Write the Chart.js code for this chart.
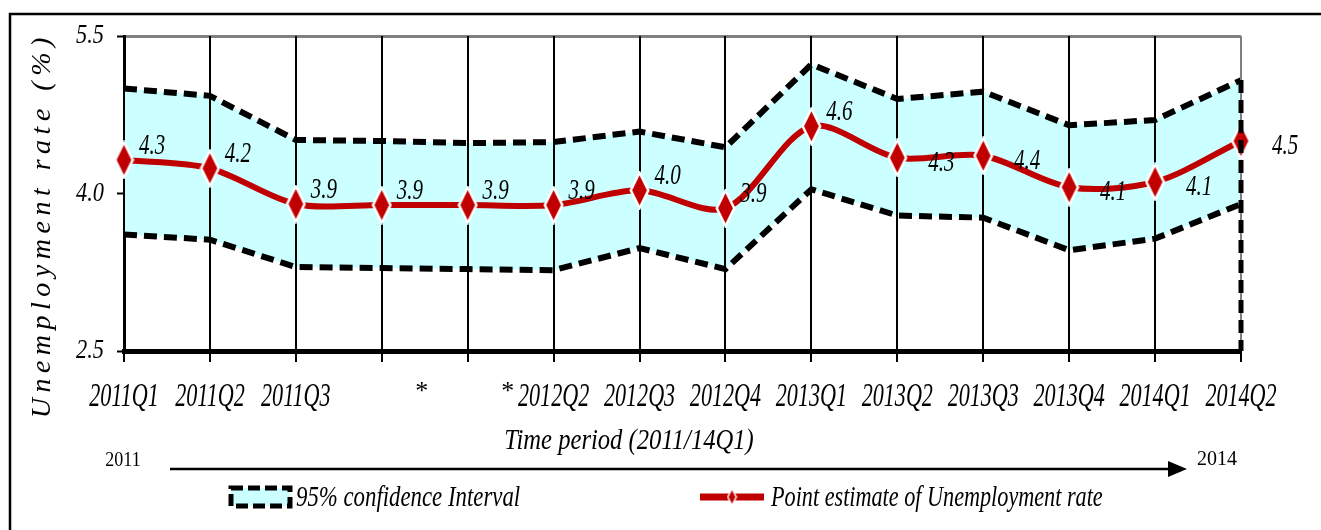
<!DOCTYPE html>
<html>
<head>
<meta charset="utf-8">
<title>Unemployment rate</title>
<script src="https://cdn.jsdelivr.net/npm/chart.js@4.4.1/dist/chart.umd.min.js"></script>
<style>
  html, body { margin: 0; padding: 0; background: #fff; }
  #wrap { width: 1321px; height: 530px; }
</style>
</head>
<body>
<div id="wrap"><canvas id="chart" width="1321" height="530"></canvas></div>
<script>
// quarters on the x axis and the labels printed under them
const periods = ['2011Q1', '2011Q2', '2011Q3', '2011Q4', '2012Q1', '2012Q2', '2012Q3',
                 '2012Q4', '2013Q1', '2013Q2', '2013Q3', '2013Q4', '2014Q1', '2014Q2'];
const tickLabels = ['2011Q1', '2011Q2', '2011Q3', '*', '*', '2012Q2', '2012Q3',
                    '2012Q4', '2013Q1', '2013Q2', '2013Q3', '2013Q4', '2014Q1', '2014Q2'];

// values
const pointEstimate = [4.32, 4.24, 3.90, 3.89, 3.89, 3.89, 4.03, 3.86, 4.64, 4.34, 4.36, 4.06, 4.11, 4.50];
const upperCI = [5.00, 4.93, 4.51, 4.50, 4.48, 4.49, 4.59, 4.44, 5.23, 4.90, 4.97, 4.65, 4.70, 5.08];
const lowerCI = [3.61, 3.56, 3.30, 3.29, 3.28, 3.27, 3.48, 3.28, 4.04, 3.79, 3.77, 3.46, 3.57, 3.90];
const yTicks = [2.5, 4.0, 5.5];

const yTitle = 'Unemployment rate (%)';
const xTitle = 'Time period (2011/14Q1)';
const ciLabel = '95% confidence Interval';
const pointLabel = 'Point estimate of Unemployment rate';
const startYear = '2011';
const endYear = '2014';

const RED = '#c00000';
const CYAN = '#ccffff';
const SERIF = '"Liberation Serif", "Times New Roman", serif';

// tall diamond marker (the chart was squeezed sideways)
function makeDiamond(w, h, border) {
    const c = document.createElement('canvas');
    c.width = w;
    c.height = h;
    const g = c.getContext('2d');
    const b = border / 2 + 0.5;
    g.beginPath();
    g.moveTo(w / 2, b);
    g.lineTo(w - b, h / 2);
    g.lineTo(w / 2, h - b);
    g.lineTo(b, h / 2);
    g.closePath();
    g.fillStyle = RED;
    g.fill();
    g.strokeStyle = '#fff';
    g.lineWidth = border;
    g.stroke();
    return c;
}
const bigDiamond = makeDiamond(21, 39, 2.5);
const smallDiamond = makeDiamond(11, 19, 1.5);

function drawText(ctx, text, x, y, size, sx, align, italic) {
    ctx.save();
    ctx.font = (italic === false ? '' : 'italic ') + size + 'px ' + SERIF;
    ctx.fillStyle = '#000';
    ctx.textBaseline = 'middle';
    ctx.textAlign = align || 'center';
    ctx.translate(x, y);
    ctx.scale(sx, 1);
    ctx.fillText(text, 0, 0);
    ctx.restore();
}

// rotated title with wide letter spacing
function drawSpacedVertical(ctx, text, cx, cy, size, spacing) {
    ctx.save();
    ctx.font = 'italic ' + size + 'px ' + SERIF;
    ctx.fillStyle = '#000';
    ctx.textBaseline = 'middle';
    ctx.textAlign = 'left';
    const widths = [...text].map(ch => ctx.measureText(ch).width);
    const total = widths.reduce((a, b) => a + b, 0) + spacing * (widths.length - 1);
    ctx.translate(cx, cy);
    ctx.rotate(-Math.PI / 2);
    let x = -total / 2;
    [...text].forEach((ch, i) => {
        ctx.fillText(ch, x, 0);
        x += widths[i] + spacing;
    });
    ctx.restore();
}

const decor = {
    id: 'decor',
    afterDraw(chart) {
        const ctx = chart.ctx;
        const xs = chart.scales.x;
        const ys = chart.scales.y;
        const area = chart.chartArea;

        // gridlines sit above the band, so put the point series back on top
        chart.getDatasetMeta(2).controller.draw();

        // outer frame (top and left only are in view)
        ctx.save();
        ctx.strokeStyle = '#000';
        ctx.lineWidth = 2.5;
        ctx.beginPath();
        ctx.moveTo(10, 530);
        ctx.lineTo(10, 14);
        ctx.lineTo(1321, 14);
        ctx.stroke();
        ctx.restore();

        // dashed right edge of the band area
        const last = periods.length - 1;
        ctx.save();
        ctx.strokeStyle = '#000';
        ctx.lineWidth = 5;
        ctx.setLineDash([13, 7]);
        ctx.beginPath();
        ctx.moveTo(xs.getPixelForValue(last), ys.getPixelForValue(upperCI[last]));
        ctx.lineTo(xs.getPixelForValue(last), area.bottom);
        ctx.stroke();
        ctx.restore();

        // y tick labels
        yTicks.forEach(v => {
            drawText(ctx, v.toFixed(1), area.left - 20, ys.getPixelForValue(v), 28, 0.8, 'right');
        });

        // x tick labels
        tickLabels.forEach((lab, i) => {
            const px = xs.getPixelForValue(i);
            if (lab === '*') {
                drawText(ctx, lab, px + 40, 392, 26, 1, 'center', false);
            } else {
                drawText(ctx, lab, px, 397, 34, 0.65);
            }
        });

        // data labels next to the point estimates
        const meta = chart.getDatasetMeta(2);
        meta.data.forEach((pt, i) => {
            const dx = i >= 9 ? 44 : 28;
            const dy = i >= 9 ? 5 : -14;
            drawText(ctx, pointEstimate[i].toFixed(1), pt.x + dx, pt.y + dy, 30, 0.7);
        });

        // axis titles
        drawText(ctx, xTitle, 629, 441, 30, 0.82);
        drawSpacedVertical(ctx, yTitle, 43, 228, 28, 5.5);

        // time arrow
        drawText(ctx, startYear, 123, 461, 20, 0.9, 'center', false);
        drawText(ctx, endYear, 1217, 460, 20, 1, 'center', false);
        ctx.save();
        ctx.strokeStyle = '#000';
        ctx.fillStyle = '#000';
        ctx.lineWidth = 2.5;
        ctx.beginPath();
        ctx.moveTo(170, 469);
        ctx.lineTo(1172, 469);
        ctx.stroke();
        ctx.beginPath();
        ctx.moveTo(1187, 469);
        ctx.lineTo(1168, 461);
        ctx.lineTo(1168, 477);
        ctx.closePath();
        ctx.fill();
        ctx.restore();

        // legend
        ctx.save();
        ctx.fillStyle = CYAN;
        ctx.fillRect(231, 488, 59, 18);
        ctx.strokeStyle = '#000';
        ctx.lineWidth = 5;
        ctx.setLineDash([12, 5]);
        ctx.strokeRect(231, 488, 59, 18);
        ctx.setLineDash([]);
        ctx.strokeStyle = RED;
        ctx.lineWidth = 7;
        ctx.beginPath();
        ctx.moveTo(700, 497);
        ctx.lineTo(764, 497);
        ctx.stroke();
        ctx.drawImage(smallDiamond, 732 - 5.5, 497 - 9.5);
        ctx.restore();
        drawText(ctx, ciLabel, 296, 498, 30, 0.76, 'left');
        drawText(ctx, pointLabel, 771, 498, 30, 0.74, 'left');
    }
};

const ctx = document.getElementById('chart').getContext('2d');
new Chart(ctx, {
    type: 'line',
    data: {
        labels: periods,
        datasets: [
            {
                label: 'Lower 95%',
                data: lowerCI,
                borderColor: '#000',
                borderWidth: 6,
                borderDash: [13, 7],
                pointRadius: 0,
                tension: 0,
                fill: false
            },
            {
                label: ciLabel,
                data: upperCI,
                borderColor: '#000',
                borderWidth: 6,
                borderDash: [13, 7],
                backgroundColor: CYAN,
                pointRadius: 0,
                tension: 0,
                fill: '-1'
            },
            {
                label: pointLabel,
                data: pointEstimate,
                borderColor: RED,
                borderWidth: 6,
                tension: 0.3,
                pointStyle: bigDiamond,
                pointRadius: 11,
                clip: false,
                fill: false
            }
        ]
    },
    options: {
        responsive: false,
        animation: false,
        events: [],
        layout: { padding: { left: 0, top: 36, right: 80, bottom: 0 } },
        plugins: {
            legend: { display: false },
            tooltip: { enabled: false }
        },
        scales: {
            x: {
                ticks: { display: false },
                afterFit: (scale) => { scale.height = 179; },
                grid: {
                    z: 1,
                    color: (c) => c.index === periods.length - 1 ? '#808080' : '#000',
                    lineWidth: 2,
                    drawTicks: true,
                    tickLength: 11,
                    tickColor: '#000',
                    tickWidth: 2
                },
                border: { display: true, color: '#000', width: 5, z: 2 }
            },
            y: {
                min: 2.5,
                max: 5.5,
                ticks: { display: false, stepSize: 1.5 },
                afterFit: (scale) => { scale.width = 124; },
                grid: {
                    color: (c) => c.tick && c.tick.value === 5.5 ? '#808080' : 'rgba(0,0,0,0)',
                    lineWidth: 3,
                    drawTicks: true,
                    tickLength: 7,
                    tickColor: '#000',
                    tickWidth: 2
                },
                border: { display: true, color: '#000', width: 3 }
            }
        }
    },
    plugins: [decor]
});
</script>
</body>
</html>
